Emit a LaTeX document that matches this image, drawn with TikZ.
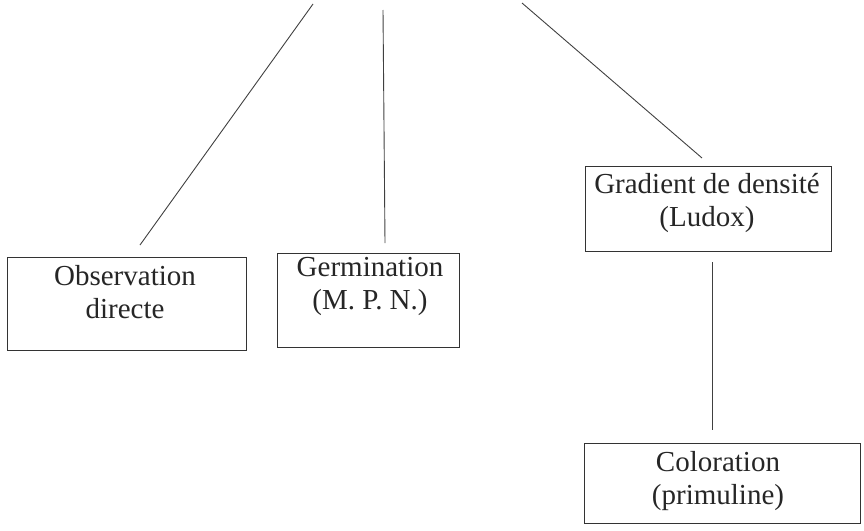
\documentclass[tikz,border=0pt]{standalone}
\usepackage{fontspec}
\setmainfont{Liberation Serif}
\begin{document}
\begin{tikzpicture}[x=1pt,y=-1pt,
  box/.style={draw=black!80, line width=1pt, rectangle, inner sep=0pt},
  txt/.style={align=center, font=\fontsize{29}{33}\selectfont, inner sep=0pt, text=black!85},
  link/.style={draw=black!75, line width=0.9pt}]
\useasboundingbox (0,0) rectangle (864,530);

% boxes
\node[box, minimum width=239, minimum height=93] (obs) at (126.5,303.5) {};
\node[box, minimum width=182, minimum height=94] (germ) at (368,300) {};
\node[box, minimum width=246, minimum height=85] (grad) at (708,208.5) {};
\node[box, minimum width=276, minimum height=80] (color) at (722,483) {};

% labels
\node[txt] (obst) at (125,292.5) {Observation\\directe};
\node[txt] (germt) at (370,286.5) {Germination\\(M. P. N.)};
\node[txt] (gradt) at (707,203.5) {Gradient de densité\\(Ludox)};
\node[txt] (colort) at (718,481.5) {Coloration\\(primuline)};

% free ends of the connectors
\coordinate (t1) at (313,4);
\coordinate (e1) at (140,245);
\coordinate (t2) at (383,10);
\coordinate (e2) at (385,243);
\coordinate (t3) at (522,3);
\coordinate (e3) at (702,158);
\coordinate (s4) at (712,262);
\coordinate (e4) at (712,430);

\draw[link] (t1) -- (e1);
\draw[link] (t2) -- (e2);
\draw[link] (t3) -- (e3);
\draw[link] (s4) -- (e4);
\end{tikzpicture}
\end{document}
